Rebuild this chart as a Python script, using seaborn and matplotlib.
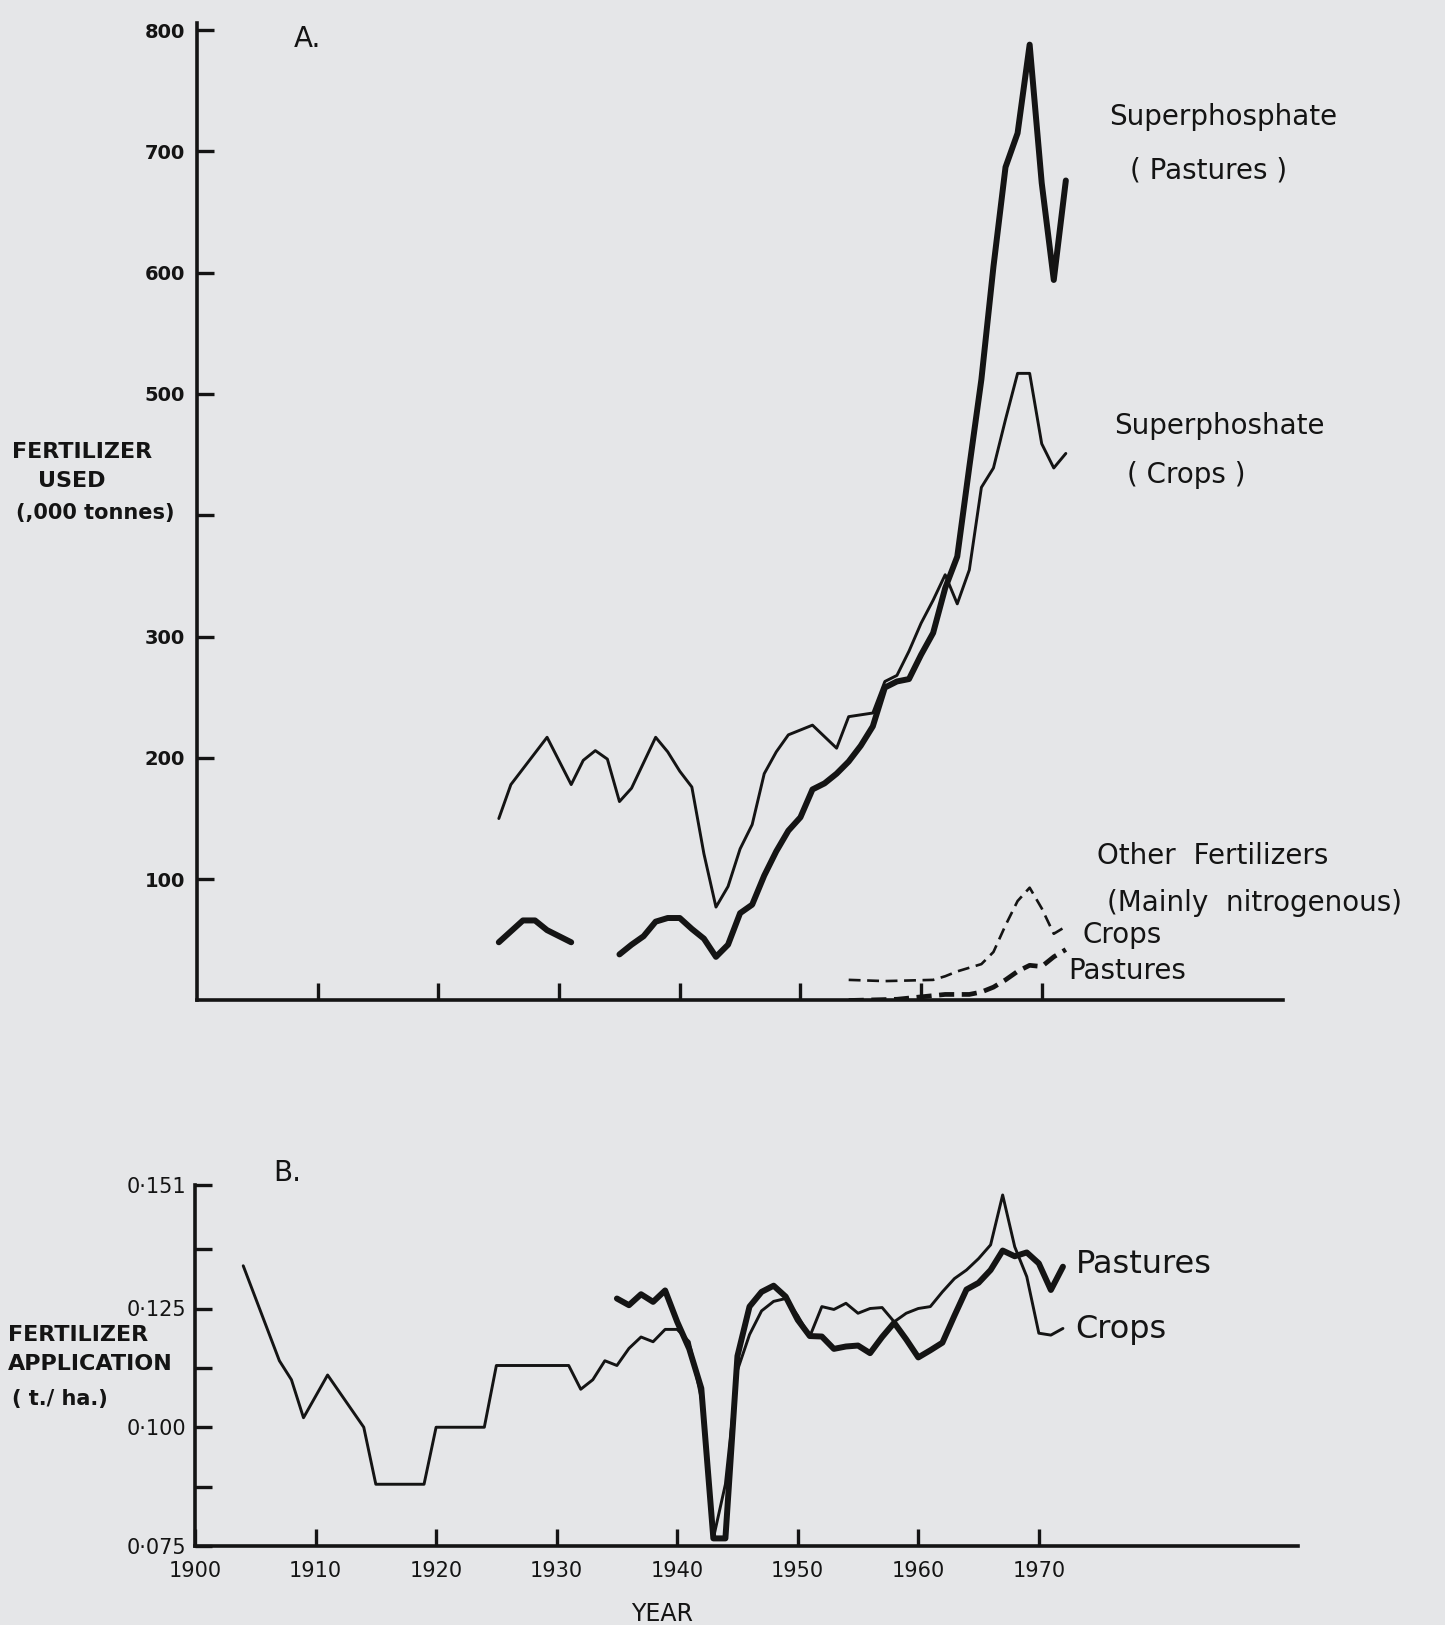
import numpy as np
import pandas as pd
import matplotlib
matplotlib.use("Agg")
import matplotlib.pyplot as plt
import seaborn as sns

# ---- panel A: fertilizer used ('000 tonnes) ----
a_crops_years = [1925, 1926, 1927, 1929, 1931, 1932, 1933, 1934, 1935, 1936, 1938, 1939,
                 1940, 1941, 1942, 1943, 1944, 1945, 1946, 1947, 1948, 1949, 1951, 1953,
                 1954, 1956, 1957, 1958, 1959, 1960, 1961, 1962, 1963, 1964, 1965, 1966,
                 1967, 1968, 1969, 1970, 1971, 1972]
a_crops_super = [150, 178, 191, 217, 178, 198, 206, 199, 164, 175, 217, 205,
                 189, 176, 121, 77, 94, 125, 145, 187, 205, 219, 227, 208,
                 234, 237, 263, 268, 288, 311, 330, 351, 327, 355, 423, 439,
                 479, 517, 517, 459, 439, 451]

# pastures has a gap 1932-34, drawn as two segments
a_past_years = [1925, 1926, 1927, 1928, 1929, 1930, 1931,
                1935, 1936, 1937, 1938, 1939, 1940, 1941, 1942, 1943, 1944, 1945, 1946,
                1947, 1948, 1949, 1950, 1951, 1952, 1953, 1954, 1955, 1956, 1957, 1958,
                1959, 1960, 1961, 1962, 1963, 1964, 1965, 1966, 1967, 1968, 1969, 1970,
                1971, 1972]
a_past_super = [48, 57, 66, 66, 58, 53, 48,
                38, 46, 53, 65, 68, 68, 59, 51, 36, 46, 72, 79,
                103, 123, 140, 151, 174, 179, 187, 197, 210, 226, 258, 263,
                265, 285, 303, 340, 366, 440, 512, 605, 687, 715, 788, 674,
                594, 676]
a_past_seg = [0] * 7 + [1] * 38

a_other_crops_years = [1954, 1957, 1961, 1962, 1963, 1964, 1965, 1966, 1967, 1968, 1969,
                       1970, 1971, 1972]
a_other_crops = [17, 16, 17, 20, 24, 27, 30, 40, 62, 82, 93, 76, 55, 61]

a_other_past_years = [1954, 1958, 1960, 1962, 1964, 1965, 1966, 1967, 1968, 1969, 1970,
                      1971, 1972]
a_other_past = [0, 1, 3, 5, 5, 7, 11, 17, 24, 29, 28, 36, 42]

a_yticks = [100, 200, 300, 400, 500, 600, 700, 800]
a_yticklabels = ["100", "200", "300", "", "500", "600", "700", "800"]
decades = [1900, 1910, 1920, 1930, 1940, 1950, 1960, 1970]

# ---- panel B: fertilizer application (t/ha) ----
b_crops_years = [1904, 1907, 1908, 1909, 1911, 1914, 1915, 1919, 1920, 1924, 1925, 1931,
                 1932, 1933, 1934, 1935, 1936, 1937, 1938, 1939, 1940, 1941, 1942, 1943,
                 1944, 1945, 1946, 1947, 1948, 1949, 1950, 1951, 1952, 1953, 1954, 1955,
                 1956, 1957, 1958, 1959, 1960, 1961, 1962, 1963, 1964, 1965, 1966, 1967,
                 1968, 1969, 1970, 1971, 1972]
b_crops = [0.134, 0.114, 0.110, 0.102, 0.111, 0.100, 0.088, 0.088, 0.100, 0.100, 0.113, 0.113,
           0.108, 0.110, 0.114, 0.113, 0.1166, 0.119, 0.118, 0.1206, 0.1206, 0.118, 0.106, 0.0766,
           0.088, 0.112, 0.1195, 0.1245, 0.1265, 0.1271, 0.1235, 0.1191, 0.1254, 0.1248, 0.1261, 0.124,
           0.125, 0.1252, 0.1222, 0.124, 0.125, 0.1254, 0.1285, 0.1313, 0.1331, 0.1355, 0.1384, 0.1489,
           0.138, 0.1317, 0.1198, 0.1194, 0.1208]

b_past_years = list(range(1935, 1973))
b_past = [0.1271, 0.1257, 0.1280, 0.1264, 0.1288, 0.1222, 0.1165, 0.1082, 0.0766, 0.0766,
          0.1150, 0.1254, 0.1285, 0.1298, 0.1275, 0.1226, 0.1192, 0.1191, 0.1165, 0.1170,
          0.1172, 0.1156, 0.1190, 0.1220, 0.1185, 0.1147, 0.1162, 0.1178, 0.1235, 0.1290,
          0.1304, 0.1331, 0.1372, 0.1360, 0.1368, 0.1345, 0.1289, 0.1338]

b_yticks = [0.075, 0.0875, 0.100, 0.1125, 0.125, 0.1375, 0.151]
b_yticklabels = ["0·075", "", "0·100", "", "0·125", "", "0·151"]

ink = "#141414"
paper = "#e5e6e8"

sns.set_theme(style="ticks")
plt.rcParams["font.family"] = ["DejaVu Sans"]
plt.rcParams["axes.facecolor"] = paper

fig = plt.figure(figsize=(14.45, 16.25), dpi=100, facecolor=paper)
W, H = 1445, 1625
ax_a = fig.add_axes([197.2 / W, 1 - 1000.5 / H, (1283 - 197.2) / W, (1000.5 - 22.8) / H])
ax_b = fig.add_axes([195 / W, 1 - 1546 / H, (1298 - 195) / W, (1546 - 1185) / H])

thin, thick = 2.1, 4.3

# panel A lines
sns.lineplot(x=a_crops_years, y=a_crops_super, ax=ax_a, color=ink, lw=thin,
             estimator=None, sort=False)
past_df = pd.DataFrame({"year": a_past_years, "value": a_past_super, "seg": a_past_seg})
sns.lineplot(data=past_df, x="year", y="value", units="seg", estimator=None, ax=ax_a,
             color=ink, lw=thick, sort=False, legend=False)
sns.lineplot(x=a_other_crops_years, y=a_other_crops, ax=ax_a, color=ink, lw=1.9,
             estimator=None, sort=False, linestyle=(0, (4.5, 2.5)))
sns.lineplot(x=a_other_past_years, y=a_other_past, ax=ax_a, color=ink, lw=3.4,
             estimator=None, sort=False, linestyle=(0, (3.2, 1.6)), zorder=4)

# panel B lines
sns.lineplot(x=b_crops_years, y=b_crops, ax=ax_b, color=ink, lw=thin,
             estimator=None, sort=False)
sns.lineplot(x=b_past_years, y=b_past, ax=ax_b, color=ink, lw=thick,
             estimator=None, sort=False)

for ax in (ax_a, ax_b):
    sns.despine(ax=ax)
    for s in ("left", "bottom"):
        ax.spines[s].set_linewidth(2.6)
        ax.spines[s].set_color(ink)
    ax.tick_params(direction="in", length=12, width=2.4, color=ink, labelcolor=ink)
    ax.set_xlabel("")
    ax.set_ylabel("")

ax_a.set_xlim(1900, 1990)
ax_a.set_ylim(0, 806)
ax_a.set_xticks(decades[1:])
ax_a.set_xticklabels([])
ax_a.set_yticks(a_yticks)
ax_a.set_yticklabels(a_yticklabels, fontsize=14, fontweight="bold")
ax_a.tick_params(axis="y", pad=9)

ax_b.set_xlim(1900, 1991.5)
ax_b.set_ylim(0.075, 0.151)
ax_b.set_xticks(decades)
ax_b.set_xticklabels([str(d) for d in decades], fontsize=15)
ax_b.set_yticks(b_yticks)
ax_b.set_yticklabels(b_yticklabels, fontsize=15)
ax_b.tick_params(axis="x", pad=11)
ax_b.tick_params(axis="y", pad=6)

# annotations, panel A
lab = dict(color=ink, fontsize=20, va="center", ha="left")
ax_a.text(1908.0, 793, "A.", color=ink, fontsize=20, va="center", ha="left")
ax_a.text(1975.6, 728, "Superphosphate", **lab)
ax_a.text(1977.3, 684, "( Pastures )", **lab)
ax_a.text(1976.0, 474, "Superphoshate", **lab)
ax_a.text(1977.1, 433, "( Crops )", **lab)
ax_a.text(1974.6, 119, "Other  Fertilizers", **lab)
ax_a.text(1975.4, 80, "(Mainly  nitrogenous)", clip_on=False, **lab)
ax_a.text(1973.4, 54, "Crops", **lab)
ax_a.text(1972.2, 24, "Pastures", **lab)

# annotations, panel B
ax_b.text(1906.5, 0.1535, "B.", color=ink, fontsize=20, va="center", ha="left", clip_on=False)
ax_b.text(1973.05, 0.1342, "Pastures", color=ink, fontsize=23, va="center", ha="left")
ax_b.text(1973.05, 0.1205, "Crops", color=ink, fontsize=23, va="center", ha="left")

# axis titles placed as in the figure
def ftext(x, y, s, **kw):
    fig.text(x / W, 1 - y / H, s, color=ink, va="center", **kw)

ftext(12, 452, "FERTILIZER", fontsize=16, fontweight="bold")
ftext(38, 481, "USED", fontsize=16, fontweight="bold")
ftext(16, 513, "(,000 tonnes)", fontsize=15, fontweight="bold")
ftext(8, 1335, "FERTILIZER", fontsize=16, fontweight="bold")
ftext(8, 1364, "APPLICATION", fontsize=16, fontweight="bold")
ftext(12, 1399, "( t./ ha.)", fontsize=15, fontweight="bold")
ftext(662, 1614, "YEAR", fontsize=17, ha="center")

fig.savefig("out.png", dpi=100, facecolor=paper)
